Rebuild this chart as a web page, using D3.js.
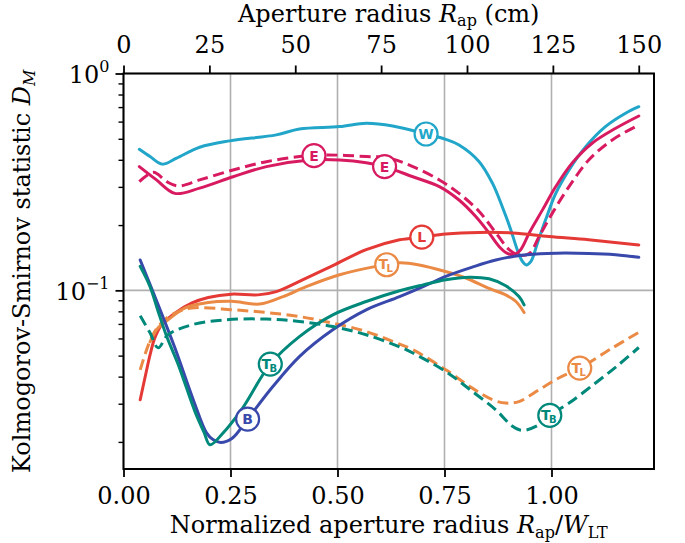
<!DOCTYPE html>
<html>
<head>
<meta charset="utf-8">
<script src="https://cdn.jsdelivr.net/npm/d3@7/dist/d3.min.js"></script>
<style>
  body { margin: 0; background: #fff; }
  svg text { font-family: "DejaVu Serif", serif; fill: #000; }
</style>
</head>
<body>
<svg id="chart" width="685" height="543"></svg>
<script>
// Aperture scale: centimetres per unit of normalized radius
const wLT = 124.6;

const xTicksNorm = [0, 0.25, 0.5, 0.75, 1.0];
const xTicksCm = [0, 25, 50, 75, 100, 125, 150];
const yMajor = [0.1, 1];
const yMinor = [0.02, 0.03, 0.04, 0.05, 0.06, 0.07, 0.08, 0.09, 0.2, 0.3, 0.4, 0.5, 0.6, 0.7, 0.8, 0.9];

// W
const wX = [0.037, 0.062, 0.091, 0.124, 0.178, 0.248, 0.357, 0.411, 0.505, 0.567, 0.629, 0.707, 0.753, 0.784, 0.831, 0.862, 0.885, 0.905, 0.920, 0.932, 0.941, 0.952, 0.967, 0.986, 1.010, 1.041, 1.080, 1.126, 1.173, 1.204];
const wD = [0.447, 0.414, 0.382, 0.407, 0.457, 0.489, 0.521, 0.555, 0.569, 0.590, 0.573, 0.526, 0.497, 0.468, 0.392, 0.312, 0.243, 0.190, 0.154, 0.136, 0.131, 0.136, 0.165, 0.211, 0.280, 0.359, 0.460, 0.569, 0.656, 0.703];

// E (solid)
const eX = [0.037, 0.077, 0.120, 0.178, 0.256, 0.334, 0.435, 0.505, 0.567, 0.610, 0.676, 0.738, 0.784, 0.823, 0.854, 0.878, 0.897, 0.913, 0.928, 0.948, 0.979, 1.010, 1.048, 1.095, 1.150, 1.204];
const eD = [0.372, 0.323, 0.280, 0.296, 0.334, 0.372, 0.399, 0.399, 0.388, 0.372, 0.334, 0.301, 0.261, 0.219, 0.184, 0.159, 0.148, 0.146, 0.154, 0.184, 0.235, 0.301, 0.386, 0.477, 0.559, 0.637];

// E (dashed)
const e2X = [0.037, 0.070, 0.101, 0.128, 0.178, 0.256, 0.334, 0.411, 0.474, 0.567, 0.621, 0.676, 0.738, 0.784, 0.831, 0.870, 0.901, 0.924, 0.948, 0.971, 1.002, 1.041, 1.087, 1.142, 1.204];
const e2D = [0.317, 0.350, 0.317, 0.303, 0.323, 0.359, 0.392, 0.414, 0.421, 0.414, 0.407, 0.372, 0.323, 0.280, 0.231, 0.184, 0.154, 0.145, 0.148, 0.177, 0.227, 0.301, 0.399, 0.494, 0.579];

// L
const lX = [0.039, 0.050, 0.062, 0.073, 0.089, 0.120, 0.159, 0.198, 0.252, 0.314, 0.357, 0.411, 0.489, 0.567, 0.645, 0.697, 0.753, 0.831, 0.909, 0.994, 1.087, 1.204];
const lD = [0.0313, 0.0394, 0.0504, 0.0602, 0.0693, 0.0785, 0.0873, 0.0927, 0.0960, 0.0953, 0.0987, 0.110, 0.130, 0.154, 0.171, 0.176, 0.182, 0.185, 0.184, 0.177, 0.171, 0.162];

// T_L (solid)
const tlX = [0.062, 0.081, 0.104, 0.143, 0.198, 0.253, 0.318, 0.373, 0.427, 0.505, 0.590, 0.645, 0.691, 0.753, 0.800, 0.854, 0.893, 0.917, 0.936];
const tlD = [0.0579, 0.0672, 0.0731, 0.0828, 0.0879, 0.0890, 0.0864, 0.0936, 0.104, 0.118, 0.129, 0.134, 0.131, 0.122, 0.114, 0.102, 0.0953, 0.0888, 0.0790];

// T_L (dashed)
const tl2X = [0.039, 0.062, 0.081, 0.112, 0.159, 0.256, 0.334, 0.411, 0.489, 0.567, 0.629, 0.676, 0.753, 0.815, 0.862, 0.893, 0.924, 0.971, 1.017, 1.066, 1.142, 1.204];
const tl2D = [0.0430, 0.0585, 0.0681, 0.0771, 0.0828, 0.0813, 0.0790, 0.0757, 0.0706, 0.0646, 0.0581, 0.0532, 0.0430, 0.0354, 0.0313, 0.0302, 0.0307, 0.0348, 0.0394, 0.0438, 0.0542, 0.0640];

// B
const bX = [0.039, 0.070, 0.120, 0.163, 0.194, 0.209, 0.227, 0.254, 0.290, 0.349, 0.411, 0.489, 0.567, 0.645, 0.700, 0.753, 0.815, 0.870, 0.930, 0.990, 1.087, 1.150, 1.204];
const bD = [0.138, 0.0971, 0.0543, 0.0313, 0.0220, 0.0205, 0.0199, 0.0208, 0.0255, 0.0360, 0.0495, 0.0658, 0.0813, 0.0935, 0.104, 0.116, 0.128, 0.138, 0.145, 0.148, 0.148, 0.146, 0.142];

// T_B (solid)
const tbX = [0.039, 0.062, 0.081, 0.101, 0.128, 0.167, 0.188, 0.202, 0.231, 0.277, 0.343, 0.411, 0.489, 0.567, 0.645, 0.700, 0.753, 0.808, 0.854, 0.893, 0.924, 0.936];
const tbD = [0.129, 0.104, 0.0799, 0.0612, 0.0454, 0.0276, 0.0222, 0.0194, 0.0218, 0.0284, 0.0457, 0.0612, 0.0771, 0.0888, 0.0995, 0.106, 0.112, 0.115, 0.113, 0.105, 0.0936, 0.0857];

// T_B (dashed)
const tb2X = [0.039, 0.062, 0.081, 0.104, 0.159, 0.237, 0.334, 0.411, 0.489, 0.567, 0.645, 0.676, 0.753, 0.815, 0.870, 0.909, 0.932, 0.971, 0.996, 1.041, 1.103, 1.157, 1.204];
const tb2D = [0.0764, 0.0637, 0.0543, 0.0624, 0.0693, 0.0731, 0.0737, 0.0718, 0.0681, 0.0624, 0.0549, 0.0514, 0.0422, 0.0342, 0.0281, 0.0236, 0.0226, 0.0240, 0.0265, 0.0302, 0.0374, 0.0454, 0.0545];

const series = [
  { key: "W",   xs: wX,   ys: wD,   color: "#21a6c9", dashed: false },
  { key: "E",   xs: eX,   ys: eD,   color: "#d81b60", dashed: false },
  { key: "E2",  xs: e2X,  ys: e2D,  color: "#d81b60", dashed: true },
  { key: "L",   xs: lX,   ys: lD,   color: "#e53935", dashed: false },
  { key: "TL",  xs: tlX,  ys: tlD,  color: "#ea8a45", dashed: false },
  { key: "TL2", xs: tl2X, ys: tl2D, color: "#ea8a45", dashed: true },
  { key: "B",   xs: bX,   ys: bD,   color: "#3949ab", dashed: false },
  { key: "TB",  xs: tbX,  ys: tbD,  color: "#00897b", dashed: false },
  { key: "TB2", xs: tb2X, ys: tb2D, color: "#00897b", dashed: true }
];

// Curve markers: which series, where along x, main letter, subscript
const labelSeries = ["E2", "E", "W", "L", "TL", "TB", "B", "TL2", "TB2"];
const labelX =      [0.445, 0.610, 0.707, 0.697, 0.615, 0.343, 0.290, 1.066, 0.996];
const labelMain =   ["E", "E", "W", "L", "T", "T", "B", "T", "T"];
const labelSub =    ["", "", "", "", "L", "B", "", "L", "B"];

const svg = d3.select("#chart");
const L = 123.5, R = 654, T = 73.5, Bt = 469;
const fs = 24, fsSub = 16;

const x = d3.scaleLinear().domain([0, 1.2395]).range([L, R]);
const xTop = d3.scaleLinear().domain([0, 1.2395 * wLT]).range([L, R]);
const y = d3.scaleLog().domain([0.015, 1]).range([Bt, T]);

// grid
const grid = svg.append("g");
grid.selectAll("line.vx").data(xTicksNorm).join("line")
  .attr("x1", d => x(d)).attr("x2", d => x(d)).attr("y1", T).attr("y2", Bt)
  .attr("stroke", "#b0b0b0").attr("stroke-width", 1.6);
grid.selectAll("line.hy").data(yMajor).join("line")
  .attr("x1", L).attr("x2", R).attr("y1", d => y(d)).attr("y2", d => y(d))
  .attr("stroke", "#b0b0b0").attr("stroke-width", 1.6);

// curves
const plot = svg.append("g");
const line = d3.line().curve(d3.curveCatmullRom.alpha(0.5));
series.forEach(s => {
  const pts = s.xs.map((v, i) => [x(v), y(s.ys[i])]);
  plot.append("path").attr("d", line(pts))
    .attr("fill", "none").attr("stroke", s.color).attr("stroke-width", 3)
    .attr("stroke-linecap", s.dashed ? "butt" : "round")
    .attr("stroke-linejoin", "round")
    .attr("stroke-dasharray", s.dashed ? "11,5.5" : null);
});

// markers on curves
function valueAt(s, xv) {
  for (let i = 0; i < s.xs.length - 1; i++) {
    if (xv >= s.xs[i] && xv <= s.xs[i + 1]) {
      const t = (xv - s.xs[i]) / (s.xs[i + 1] - s.xs[i]);
      return Math.pow(10, Math.log10(s.ys[i]) * (1 - t) + Math.log10(s.ys[i + 1]) * t);
    }
  }
  return s.ys[s.ys.length - 1];
}
const marks = svg.append("g");
labelSeries.forEach((k, i) => {
  const s = series.find(d => d.key === k);
  const cx = x(labelX[i]), cy = y(valueAt(s, labelX[i]));
  const g = marks.append("g").attr("transform", `translate(${cx},${cy})`);
  g.append("circle").attr("r", 11.5).attr("fill", "#fff").attr("stroke", s.color).attr("stroke-width", 2.2);
  const t = g.append("text").attr("text-anchor", "middle")
    .style("font-family", "'DejaVu Sans', sans-serif").style("font-weight", "bold")
    .style("fill", s.color);
  if (labelSub[i]) {
    t.attr("x", -1).attr("y", 4.5);
    t.append("tspan").style("font-size", "14px").text(labelMain[i]);
    t.append("tspan").style("font-size", "10px").attr("dx", -1.5).attr("dy", 3).text(labelSub[i]);
  } else {
    t.attr("y", 5).style("font-size", "14px").text(labelMain[i]);
  }
});

// axes
function styleAxis(g) {
  g.select(".domain").remove();
  g.selectAll(".tick line").attr("stroke", "#000").attr("stroke-width", 1.8);
  g.selectAll(".tick text").style("font-size", fs + "px").style("font-family", "'DejaVu Serif', serif");
}
const axB = svg.append("g").attr("transform", `translate(0,${Bt})`)
  .call(d3.axisBottom(x).tickValues(xTicksNorm).tickFormat(d3.format(".2f")).tickSize(8));
styleAxis(axB);
axB.selectAll(".tick text").attr("y", 35).attr("dy", 0);

const axT = svg.append("g").attr("transform", `translate(0,${T})`)
  .call(d3.axisTop(xTop).tickValues(xTicksCm).tickFormat(d3.format("d")).tickSize(8));
styleAxis(axT);
axT.selectAll(".tick text").attr("y", -21).attr("dy", 0);

const axL = svg.append("g").attr("transform", `translate(${L},0)`)
  .call(d3.axisLeft(y).tickValues(yMajor).tickFormat("").tickSize(8));
styleAxis(axL);
axL.selectAll(".tick").each(function (d) {
  const e = Math.round(Math.log10(d));
  const t = d3.select(this).append("text").attr("x", -14).attr("y", 9)
    .attr("text-anchor", "end").style("font-size", fs + "px");
  t.append("tspan").text("10");
  t.append("tspan").attr("dy", -11).style("font-size", fsSub + "px").text(e < 0 ? "\u2212" + (-e) : String(e));
});
const axLm = svg.append("g").attr("transform", `translate(${L},0)`)
  .call(d3.axisLeft(y).tickValues(yMinor).tickFormat("").tickSize(5));
styleAxis(axLm);
axLm.selectAll(".tick line").attr("stroke-width", 1.4);

// frame
svg.append("rect").attr("x", L).attr("y", T).attr("width", R - L).attr("height", Bt - T)
  .attr("fill", "none").attr("stroke", "#000").attr("stroke-width", 2);

// axis titles
const tTop = svg.append("text").attr("x", (L + R) / 2).attr("y", 22).attr("text-anchor", "middle").style("font-size", fs + "px");
tTop.append("tspan").text("Aperture radius ");
tTop.append("tspan").style("font-style", "italic").text("R");
tTop.append("tspan").attr("dy", 4).style("font-size", fsSub + "px").text("ap");
tTop.append("tspan").attr("dy", -4).text(" (cm)");

const tBot = svg.append("text").attr("x", (L + R) / 2).attr("y", 533).attr("text-anchor", "middle").style("font-size", fs + "px");
tBot.append("tspan").text("Normalized aperture radius ");
tBot.append("tspan").style("font-style", "italic").text("R");
tBot.append("tspan").attr("dy", 5).style("font-size", fsSub + "px").text("ap");
tBot.append("tspan").attr("dy", -5).text("/");
tBot.append("tspan").style("font-style", "italic").text("W");
tBot.append("tspan").attr("dy", 5).style("font-size", fsSub + "px").text("LT");

const tY = svg.append("text").attr("transform", `translate(30,${(T + Bt) / 2}) rotate(-90)`)
  .attr("text-anchor", "middle").style("font-size", fs + "px");
tY.append("tspan").text("Kolmogorov-Smirnov statistic ");
tY.append("tspan").style("font-style", "italic").text("D");
tY.append("tspan").attr("dy", 5).style("font-size", fsSub + "px").style("font-style", "italic").text("M");
</script>
</body>
</html>
